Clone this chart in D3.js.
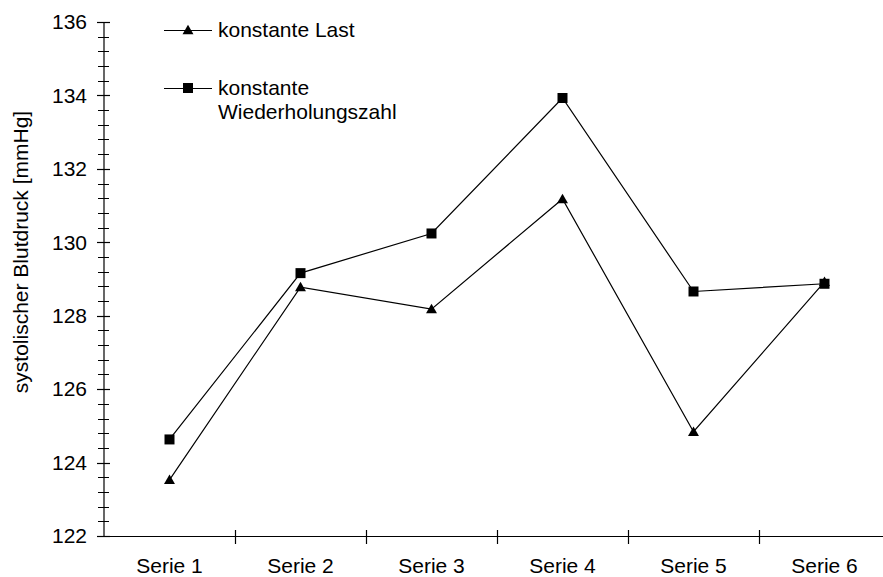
<!DOCTYPE html>
<html><head><meta charset="utf-8">
<script src="https://cdn.jsdelivr.net/npm/d3@7"></script>
<style>
html,body{margin:0;padding:0;background:#fff;}
svg{display:block;font-family:"Liberation Sans",Arial,sans-serif;}
</style></head>
<body>
<script>
const categories = ["Serie 1","Serie 2","Serie 3","Serie 4","Serie 5","Serie 6"];
const konstanteLast = [123.53, 128.78, 128.18, 131.18, 124.84, 128.92];
const konstanteWdh = [124.63, 129.16, 130.24, 133.93, 128.66, 128.87];
const yMajorTicks = [122,124,126,128,130,132,134,136];
const yTitle = "systolischer Blutdruck [mmHg]";
const legendLabels = [["konstante Last"],["konstante","Wiederholungszahl"]];

const W = 883, H = 577;
const svg = d3.select("body").append("svg").attr("width", W).attr("height", H);
const fs = 21;

const x = d3.scaleBand().domain(categories).range([104, 890]).padding(0);
const y = d3.scaleLinear().domain([122, 136]).range([536, 22]);

// Y axis
const yAxis = svg.append("g");
yAxis.append("line").attr("x1",104).attr("x2",104).attr("y1",y(136)).attr("y2",y(122)).attr("stroke","#000").attr("stroke-width",1.2);
const minor = d3.range(0, 36).map(i => 122 + i*0.4);
yAxis.selectAll("line.minor").data(minor).join("line").attr("class","minor")
  .attr("x1",98).attr("x2",109).attr("y1",d=>Math.round(y(d))+0.5).attr("y2",d=>Math.round(y(d))+0.5)
  .attr("stroke","#000").attr("stroke-width",1);
yAxis.selectAll("line.major").data(yMajorTicks).join("line").attr("class","major")
  .attr("x1",97).attr("x2",110).attr("y1",d=>Math.round(y(d))+0.5).attr("y2",d=>Math.round(y(d))+0.5)
  .attr("stroke","#000").attr("stroke-width",1.2);
yAxis.selectAll("text").data(yMajorTicks).join("text")
  .attr("x",87).attr("y",d=>y(d)).attr("dy","0.35em").attr("text-anchor","end")
  .attr("font-size",fs).text(d=>d);

// X axis
const xAxis = svg.append("g");
xAxis.append("line").attr("x1",104).attr("x2",890).attr("y1",536.5).attr("y2",536.5).attr("stroke","#000").attr("stroke-width",1.2);
xAxis.selectAll("line.t").data(categories.slice(1)).join("line").attr("class","t")
  .attr("x1",d=>Math.round(x(d))+0.5).attr("x2",d=>Math.round(x(d))+0.5).attr("y1",530).attr("y2",544)
  .attr("stroke","#000").attr("stroke-width",1.2);
xAxis.selectAll("text").data(categories).join("text")
  .attr("x",d=>x(d)+x.bandwidth()/2).attr("y",573).attr("text-anchor","middle")
  .attr("font-size",fs).text(d=>d);

// Y title
svg.append("text").attr("transform","translate(28,252) rotate(-90)")
  .attr("text-anchor","middle").attr("font-size",fs).text(yTitle);

const cx = d => x(d) + x.bandwidth()/2;
const line = d3.line().x(d=>cx(d[0])).y(d=>y(d[1]));
const sym = [d3.symbolTriangle, d3.symbolSquare];
const symSize = [52, 100];
const series = [konstanteLast, konstanteWdh];

series.forEach((vals, si) => {
  const pts = categories.map((c,i)=>[c, vals[i]]);
  svg.append("path").attr("d", line(pts)).attr("fill","none").attr("stroke","#000").attr("stroke-width",1.2);
});
series.forEach((vals, si) => {
  const pts = categories.map((c,i)=>[c, vals[i]]);
  svg.selectAll(null).data(pts).join("path")
    .attr("transform", d=>`translate(${cx(d[0])},${y(d[1]) + (si===0?1:0)})`)
    .attr("d", d3.symbol().type(sym[si]).size(symSize[si])).attr("fill","#000");
});

// Legend
const legY = [30, 88];
legendLabels.forEach((lines, i) => {
  svg.append("line").attr("x1",164).attr("x2",212).attr("y1",legY[i]+0.5).attr("y2",legY[i]+0.5).attr("stroke","#000").attr("stroke-width",1.2);
  svg.append("path").attr("transform",`translate(188,${legY[i] + (i===0?1:0)})`)
    .attr("d", d3.symbol().type(sym[i]).size(symSize[i])).attr("fill","#000");
  lines.forEach((t, j) => {
    svg.append("text").attr("x",218).attr("y",legY[i] + j*24).attr("dy","0.35em")
      .attr("font-size",fs).text(t);
  });
});
</script>
</body></html>
